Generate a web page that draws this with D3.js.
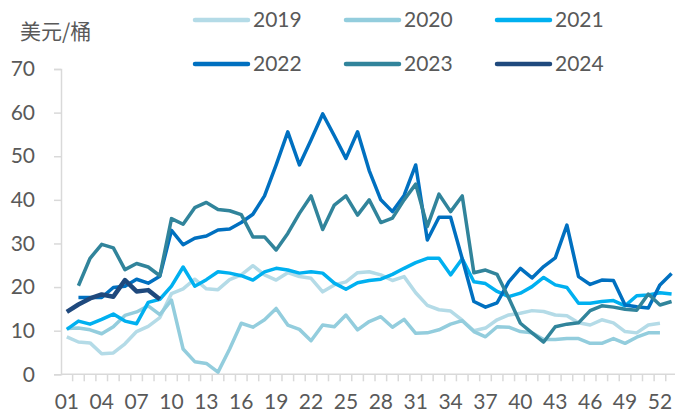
<!DOCTYPE html>
<html>
<head>
<meta charset="utf-8">
<script src="https://cdn.jsdelivr.net/npm/d3@7/dist/d3.min.js"></script>
<style>
    body { margin: 0; background: #fff; }
    svg { display: block; font-family: Lato, "Noto Sans CJK SC", sans-serif; }
</style>
</head>
<body>
<svg id="chart" width="675" height="415"></svg>
<script>
    'use strict';

    var weeks = d3.range(1, 54).map(function (d) { return d < 10 ? '0' + d : String(d); });
    var yTicks = [0, 10, 20, 30, 40, 50, 60, 70];
    var unitLabel = '美元/桶';
    var years = ['2019', '2020', '2021', '2022', '2023', '2024'];
    var colors = ['#b4dbe7', '#93cddd', '#00b0f0', '#0070c0', '#31849b', '#1f497d'];

    var v2019 = [8.6, 7.4, 7.2, 4.7, 4.9, 7.0, 9.8, 11.0, 13.0, 18.5, 19.6, 21.8, 19.6, 19.4, 21.7, 22.8,
        24.9, 22.8, 21.6, 23.3, 22.4, 22.0, 18.9, 20.5, 21.2, 23.3, 23.5, 22.8, 21.5, 22.4, 18.7, 15.8,
        14.8, 14.5, 12.4, 10.0, 10.6, 12.5, 13.6, 14.0, 14.6, 14.4, 13.6, 13.4, 11.8, 11.3, 12.5, 11.8,
        9.8, 9.5, 11.3, 11.7];
    var v2020 = [10.5, 10.6, 10.2, 9.3, 10.9, 13.5, 14.3, 15.7, 13.7, 17.0, 5.8, 2.9, 2.5, 0.5, 5.8, 11.7,
        10.8, 12.5, 15.1, 11.3, 10.3, 7.7, 11.3, 10.9, 13.6, 10.2, 12.1, 13.2, 10.8, 12.6, 9.4, 9.5,
        10.2, 11.5, 12.3, 9.8, 8.6, 10.9, 10.8, 9.8, 9.5, 8.0, 8.0, 8.2, 8.2, 7.1, 7.1, 8.2,
        7.1, 8.5, 9.5, 9.5];
    var v2021 = [10.3, 12.2, 11.5, 12.6, 13.8, 12.2, 11.6, 16.5, 17.2, 20.2, 24.6, 20.2, 21.7, 23.5, 23.2, 22.6,
        21.6, 23.5, 24.3, 23.9, 23.2, 23.5, 23.2, 20.9, 19.5, 21.0, 21.5, 21.8, 22.9, 24.3, 25.6, 26.6,
        26.6, 22.8, 26.5, 21.2, 20.8, 19.0, 17.8, 18.6, 20.1, 22.2, 20.5, 19.9, 16.3, 16.3, 16.7, 16.9,
        15.7, 18.0, 18.2, 18.7, 18.4];
    var v2022 = [null, 17.6, 17.6, 17.6, 19.9, 20.2, 21.8, 20.9, 22.5, 33.0, 29.7, 31.2, 31.7, 33.1, 33.3, 34.8,
        36.7, 40.9, 48.0, 55.6, 48.0, 53.7, 59.7, 54.7, 49.5, 55.6, 46.7, 40.0, 37.3, 41.0, 48.0, 30.8,
        36.0, 36.0, 26.5, 16.7, 15.4, 16.4, 21.2, 24.3, 22.1, 24.7, 26.7, 34.2, 22.4, 20.6, 21.6, 21.5,
        15.9, 15.5, 15.2, 20.5, 23.1];
    var v2023 = [null, 20.3, 26.6, 29.8, 29.0, 24.0, 25.4, 24.6, 22.6, 35.7, 34.4, 38.2, 39.4, 37.8, 37.5, 36.6,
        31.5, 31.5, 28.5, 32.3, 36.9, 40.9, 33.2, 38.8, 40.9, 36.5, 40.0, 34.8, 35.8, 40.0, 43.6, 33.9,
        41.3, 37.3, 40.9, 23.3, 23.9, 22.9, 17.5, 11.7, 9.5, 7.4, 10.9, 11.5, 11.8, 14.6, 15.7, 15.4,
        14.9, 14.7, 18.4, 15.9, 16.7];
    var v2024 = [14.3, 16.0, 17.4, 18.3, 17.8, 21.6, 19.0, 19.3, 17.2];

    var series = [v2019, v2020, v2021, v2022, v2023, v2024];

    var svg = d3.select('#chart');
    var bandW = 11.63;

    var x = d3.scaleBand()
        .domain(weeks)
        .range([61, 61 + weeks.length * bandW]);

    var y = d3.scaleLinear()
        .domain([0, 70])
        .range([374.3, 69]);

    var axisColor = '#d9d9d9';
    var textColor = '#595959';

    // y axis
    var yAxis = svg.append('g')
        .attr('transform', 'translate(61,0)')
        .call(d3.axisLeft(y).tickValues(yTicks).tickSize(7).tickPadding(19));
    yAxis.select('.domain').attr('stroke', axisColor).attr('stroke-width', 1.5);
    yAxis.selectAll('.tick line').attr('stroke', axisColor).attr('stroke-width', 1.5);
    yAxis.selectAll('.tick text')
        .style('font-size', '21px')
        .style('font-family', 'Lato, sans-serif')
        .attr('fill', textColor);

    // x axis: tick marks on band boundaries, labels every 3 weeks
    var xg = svg.append('g');
    xg.append('line')
        .attr('x1', 61).attr('x2', 675)
        .attr('y1', y(0)).attr('y2', y(0))
        .attr('stroke', axisColor)
        .attr('stroke-width', 1.5);
    xg.selectAll('line.tick')
        .data(weeks)
        .enter().append('line')
        .classed('tick', true)
        .attr('x1', function (d) { return x(d) + bandW; })
        .attr('x2', function (d) { return x(d) + bandW; })
        .attr('y1', y(0))
        .attr('y2', y(0) + 7)
        .attr('stroke', axisColor)
        .attr('stroke-width', 1.5);
    xg.selectAll('text')
        .data(weeks.filter(function (d, i) { return i % 3 === 0; }))
        .enter().append('text')
        .attr('x', function (d) { return x(d) + bandW / 2; })
        .attr('y', 409)
        .attr('text-anchor', 'middle')
        .style('font-size', '21px')
        .attr('fill', textColor)
        .text(function (d) { return d; });

    // unit label
    svg.append('text')
        .attr('x', 20)
        .attr('y', 39)
        .style('font-size', '21px')
        .style('font-family', '"Noto Sans CJK SC", sans-serif')
        .attr('fill', textColor)
        .text(unitLabel);

    // lines
    var line = d3.line()
        .defined(function (d) { return d != null; })
        .x(function (d, i) { return x(weeks[i]) + bandW / 2; })
        .y(function (d) { return y(d); });

    svg.append('g')
        .selectAll('path')
        .data(series)
        .enter().append('path')
        .attr('d', line)
        .attr('fill', 'none')
        .attr('stroke', function (d, i) { return colors[i]; })
        .attr('stroke-width', function (d, i) { return i === 5 ? 4.5 : 3.5; })
        .attr('stroke-linejoin', 'round');

    // legend
    var legend = svg.append('g')
        .selectAll('g')
        .data(years)
        .enter().append('g')
        .attr('transform', function (d, i) {
            return 'translate(' + (195 + (i % 3) * 151) + ',' + (20 + Math.floor(i / 3) * 44) + ')';
        });

    legend.append('line')
        .attr('x1', 0).attr('x2', 53)
        .attr('stroke', function (d, i) { return colors[i]; })
        .attr('stroke-width', 4.5)
        .attr('stroke-linecap', 'round');

    legend.append('text')
        .attr('x', 58)
        .attr('dy', '0.35em')
        .style('font-size', '21px')
        .attr('fill', textColor)
        .text(function (d) { return d; });
</script>
</body>
</html>
